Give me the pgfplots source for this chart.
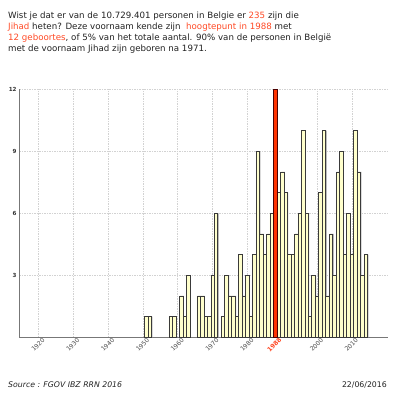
\documentclass[border=0pt]{standalone}
\usepackage{pgfplots}
\pgfplotsset{compat=1.18}
\usepackage{fontspec}
\setmainfont{DejaVu Sans}
\definecolor{hl}{HTML}{FF4A26}
\definecolor{barfill}{HTML}{FFFFCC}
\definecolor{baredge}{HTML}{3A3A3A}
\definecolor{redfill}{HTML}{FF3300}
\definecolor{txt}{HTML}{222222}
\definecolor{axisgray}{HTML}{777777}
\pgfplotstableread{
year n
1951 1
1952 1
1958 1
1959 1
1961 2
1962 1
1963 3
1966 2
1967 2
1968 1
1969 1
1970 3
1971 6
1973 1
1974 3
1975 2
1976 2
1977 1
1978 4
1979 2
1980 3
1981 1
1982 4
1983 9
1984 5
1985 4
1986 5
1987 6
1989 7
1990 8
1991 7
1992 4
1993 4
1994 5
1995 6
1996 10
1997 6
1998 1
1999 3
2000 2
2001 7
2002 10
2003 2
2004 5
2005 3
2006 8
2007 9
2008 4
2009 6
2010 4
2011 10
2012 8
2013 3
2014 4
}\births
\begin{document}
\begin{tikzpicture}
\useasboundingbox (0,0) rectangle (400bp,-400bp);
\fill[white] (0,0) rectangle (400bp,-400bp);
\begin{axis}[
  at={(19.3bp,-337.3bp)}, anchor=south west,
  scale only axis, width=369bp, height=248bp,
  xmin=1914.5, xmax=2020.5, ymin=0, ymax=12,
  axis x line=bottom, axis y line=left,
  axis line style={draw=axisgray, line width=1.1bp, -},
  xtick={1920,1930,1940,1950,1960,1970,1980,1988,2000,2010},
  xticklabels={1920,1930,1940,1950,1960,1970,1980,\textcolor{hl}{\bfseries 1988},2000,2010},
  ytick={3,6,9,12},
  major tick length=0pt,
  grid=major,
  major grid style={draw=gray!35, line width=0.5bp, dash pattern=on 1.5bp off 1bp},
  /pgf/number format/assume math mode=true,
  xticklabel style={font=\fontsize{6.2}{7}\selectfont, text=black!70, rotate=45, anchor=east, inner sep=0pt, xshift=2.5bp, yshift=-5bp},
  yticklabel style={font=\bfseries\fontsize{5.6}{6}\selectfont, text=black!80, inner sep=1bp, xshift=-1.5bp},
  clip=false,
]
\addplot[ybar, bar shift=0.9bp, bar width=3.47bp, fill=black!40, draw=none] table[x=year,y=n] {\births};
\addplot[ybar, bar shift=0.9bp, bar width=3.47bp, fill=black!40, draw=none] coordinates {(1988,12)};
\addplot[ybar, bar shift=0pt, bar width=3.47bp, fill=barfill, draw=baredge, line width=0.5bp] table[x=year,y=n] {\births};
\addplot[ybar, bar shift=0pt, bar width=3.47bp, fill=redfill, draw=black!70!red, line width=0.6bp] coordinates {(1988,12)};
\end{axis}
\begin{scope}[every node/.style={anchor=base west, inner sep=0pt, text=txt, font=\fontsize{8.7}{10}\selectfont}]
\node at (8bp,-18bp) {Wist je dat er van de 10.729.401 personen in Belgie er \textcolor{hl}{235} zijn die};
\node at (8bp,-29bp) {\textcolor{hl}{Jihad} heten? Deze voornaam kende zijn \ \textcolor{hl}{hoogtepunt in 1988} met};
\node at (8bp,-40bp) {\textcolor{hl}{12 geboortes}, of 5\% van het totale aantal. 90\% van de personen in België};
\node at (8bp,-51bp) {met de voornaam Jihad zijn geboren na 1971.};
\end{scope}
\begin{scope}[every node/.style={anchor=base west, inner sep=0pt, text=txt, font=\fontsize{7.8}{9}\selectfont}]
\node at (8bp,-387bp) {\itshape Source : FGOV IBZ RRN 2016};
\node[anchor=base east] at (387bp,-387bp) {22/06/2016};
\end{scope}
\end{tikzpicture}
\end{document}
